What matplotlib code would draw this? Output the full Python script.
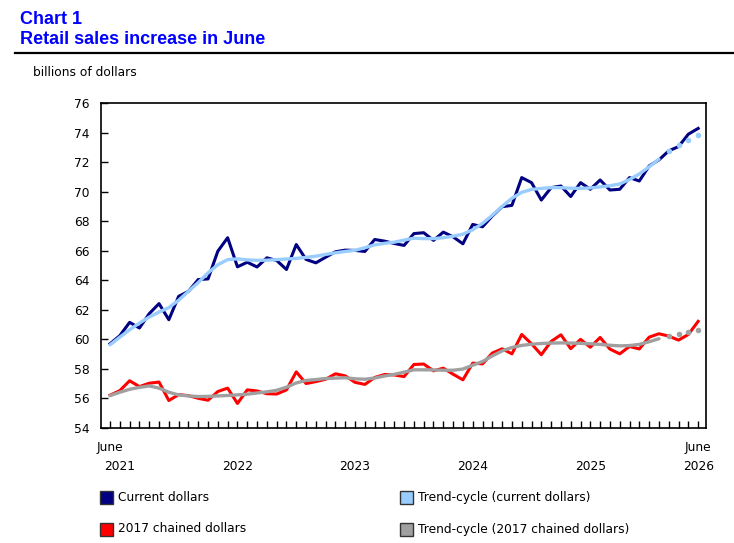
import matplotlib
matplotlib.use("Agg")
import matplotlib.pyplot as plt
from matplotlib.patches import Rectangle
from matplotlib.transforms import blended_transform_factory

# --- Data (billions of dollars), monthly June 2021 .. June 2026 ---
months = list(range(61))  # 0 = June 2021

current_dollars = [
    59.70, 60.25, 61.15, 60.77, 61.74, 62.42, 61.33, 62.91, 63.25, 64.05,
    64.09, 65.97, 66.88, 64.91, 65.22, 64.90, 65.52, 65.34, 64.73, 66.42,
    65.41, 65.18, 65.56, 65.93, 66.04, 66.02, 65.95, 66.76, 66.65, 66.49,
    66.36, 67.16, 67.22, 66.70, 67.26, 66.94, 66.47, 67.78, 67.62, 68.35,
    68.98, 69.07, 70.95, 70.61, 69.43, 70.27, 70.38, 69.67, 70.61, 70.16,
    70.79, 70.11, 70.16, 70.95, 70.72, 71.74, 72.15, 72.76, 73.05, 73.89,
    74.28,
]

chained_dollars = [
    56.22, 56.53, 57.20, 56.80, 57.03, 57.11, 55.86, 56.26, 56.19, 56.01,
    55.88, 56.47, 56.70, 55.66, 56.58, 56.51, 56.32, 56.30, 56.58, 57.80,
    57.01, 57.14, 57.30, 57.67, 57.53, 57.09, 56.95, 57.42, 57.62, 57.59,
    57.48, 58.30, 58.33, 57.87, 58.05, 57.64, 57.26, 58.39, 58.34, 59.07,
    59.36, 59.02, 60.33, 59.70, 58.96, 59.86, 60.31, 59.37, 60.00, 59.47,
    60.13, 59.34, 59.02, 59.52, 59.35, 60.15, 60.38, 60.22, 59.95, 60.33,
    61.22,
]

# trend-cycle, solid part (June 2021 .. Feb 2026)
trend_current = [
    59.63, 60.15, 60.65, 61.10, 61.51, 61.85, 62.15, 62.65, 63.25, 63.85,
    64.50, 65.05, 65.40, 65.45, 65.38, 65.35, 65.36, 65.40, 65.44, 65.48,
    65.55, 65.63, 65.75, 65.86, 65.95, 66.03, 66.20, 66.40, 66.50, 66.58,
    66.72, 66.85, 66.82, 66.82, 66.88, 66.98, 67.12, 67.42, 67.85, 68.40,
    69.00, 69.55, 69.95, 70.15, 70.22, 70.27, 70.27, 70.23, 70.22, 70.25,
    70.32, 70.40, 70.52, 70.82, 71.20, 71.68, 72.20,
]
trend_chained = [
    56.19, 56.42, 56.62, 56.75, 56.85, 56.70, 56.42, 56.24, 56.17, 56.13,
    56.14, 56.17, 56.20, 56.24, 56.29, 56.37, 56.45, 56.55, 56.76, 57.05,
    57.22, 57.28, 57.35, 57.38, 57.40, 57.33, 57.30, 57.38, 57.52, 57.63,
    57.78, 57.94, 57.94, 57.93, 57.91, 57.91, 57.99, 58.25, 58.50, 58.88,
    59.22, 59.45, 59.59, 59.67, 59.72, 59.75, 59.76, 59.75, 59.73, 59.70,
    59.66, 59.60, 59.56, 59.58, 59.66, 59.84, 60.04,
]
# last four trend points, drawn as dots (March .. June 2026)
trend_current_dots = [72.72, 73.15, 73.48, 73.82]
trend_chained_dots = [60.26, 60.37, 60.48, 60.61]

year_labels = ["2022", "2023", "2024", "2025"]
year_label_pos = [13, 25, 37, 49]
january_pos = [7, 19, 31, 43, 55]

# colours
NAVY = "#000080"
LIGHT_BLUE = "#99ccff"
RED = "#ff0000"
GREY = "#a0a0a0"
TITLE_BLUE = "#0000ff"

W, H = 734, 543


def fig_xy(x, y):
    """pixel coordinates (from top-left) -> figure fraction"""
    return x / W, 1 - y / H


def make_chart():
    plt.rcParams["font.family"] = ["DejaVu Sans"]
    fig = plt.figure(figsize=(W / 100, H / 100), dpi=100)

    left, bottom = fig_xy(101, 428)
    right, top = fig_xy(706, 103)
    ax = fig.add_axes([left, bottom, right - left, top - bottom])

    n_solid = len(trend_current)
    dot_months = months[n_solid:]

    ax.plot(months, current_dollars, color=NAVY, lw=2.2, zorder=3)
    ax.plot(months[:n_solid], trend_current, color=LIGHT_BLUE, lw=2.4, zorder=4,
            solid_capstyle="round")
    ax.plot(dot_months, trend_current_dots, "o", color=LIGHT_BLUE, ms=4, mew=0, zorder=4)

    ax.plot(months, chained_dollars, color=RED, lw=2.2, zorder=3)
    ax.plot(months[:n_solid], trend_chained, color=GREY, lw=2.4, zorder=4,
            solid_capstyle="round")
    ax.plot(dot_months, trend_chained_dots, "o", color=GREY, ms=4, mew=0, zorder=4)

    # axes
    ax.set_xlim(-0.92, 60.8)
    ax.set_ylim(54, 76)
    ax.set_yticks(range(54, 77, 2))
    ax.tick_params(axis="y", direction="in", length=5, width=1, pad=8,
                   labelsize=8.8, colors="black")
    ax.set_xticks(months)
    ax.set_xticks(january_pos, minor=True)
    ax.tick_params(axis="x", which="major", direction="in", length=5, width=1,
                   labelbottom=False)
    ax.tick_params(axis="x", which="minor", direction="in", length=19, width=1,
                   labelbottom=False)
    for spine in ax.spines.values():
        spine.set_linewidth(1.2)
        spine.set_color("black")

    # x labels
    trans = blended_transform_factory(ax.transData, ax.transAxes)
    y_month = -20 / 325
    y_year = -39 / 325
    ax.text(0, y_month, "June", transform=trans, ha="center", va="center", fontsize=8.8)
    ax.text(1, y_year, "2021", transform=trans, ha="center", va="center", fontsize=8.8)
    for pos, lab in zip(year_label_pos, year_labels):
        ax.text(pos, y_year, lab, transform=trans, ha="center", va="center", fontsize=8.8)
    ax.text(60, y_month, "June", transform=trans, ha="center", va="center", fontsize=8.8)
    ax.text(60, y_year, "2026", transform=trans, ha="center", va="center", fontsize=8.8)

    # title block
    fig.text(*fig_xy(20, 19), "Chart 1", color=TITLE_BLUE, fontsize=13,
             fontweight="bold", family="Liberation Sans", va="center")
    fig.text(*fig_xy(20, 40), "Retail sales increase in June", color=TITLE_BLUE,
             fontsize=13, fontweight="bold", family="Liberation Sans", va="center")
    x0, y0 = fig_xy(15, 53)
    x1, _ = fig_xy(734, 53)
    fig.add_artist(plt.Line2D([x0, x1], [y0, y0], color="black", lw=1.6,
                              transform=fig.transFigure))
    fig.text(*fig_xy(33, 72), "billions of dollars", fontsize=8.8, va="center")

    # legend
    legend_items = [
        (100, 497.5, NAVY, "Current dollars"),
        (400, 497.5, LIGHT_BLUE, "Trend-cycle (current dollars)"),
        (100, 529, RED, "2017 chained dollars"),
        (400, 529, GREY, "Trend-cycle (2017 chained dollars)"),
    ]
    for x, y, col, label in legend_items:
        rx, ry = fig_xy(x, y + 6.5)
        fig.patches.append(Rectangle((rx, ry), 13 / W, 13 / H, facecolor=col,
                                     edgecolor="#333333", lw=1,
                                     transform=fig.transFigure, figure=fig))
        fig.text(*fig_xy(x + 18, y), label, fontsize=8.8, va="center")

    fig.savefig("out.png", dpi=100)
    plt.close(fig)


if __name__ == "__main__":
    make_chart()
